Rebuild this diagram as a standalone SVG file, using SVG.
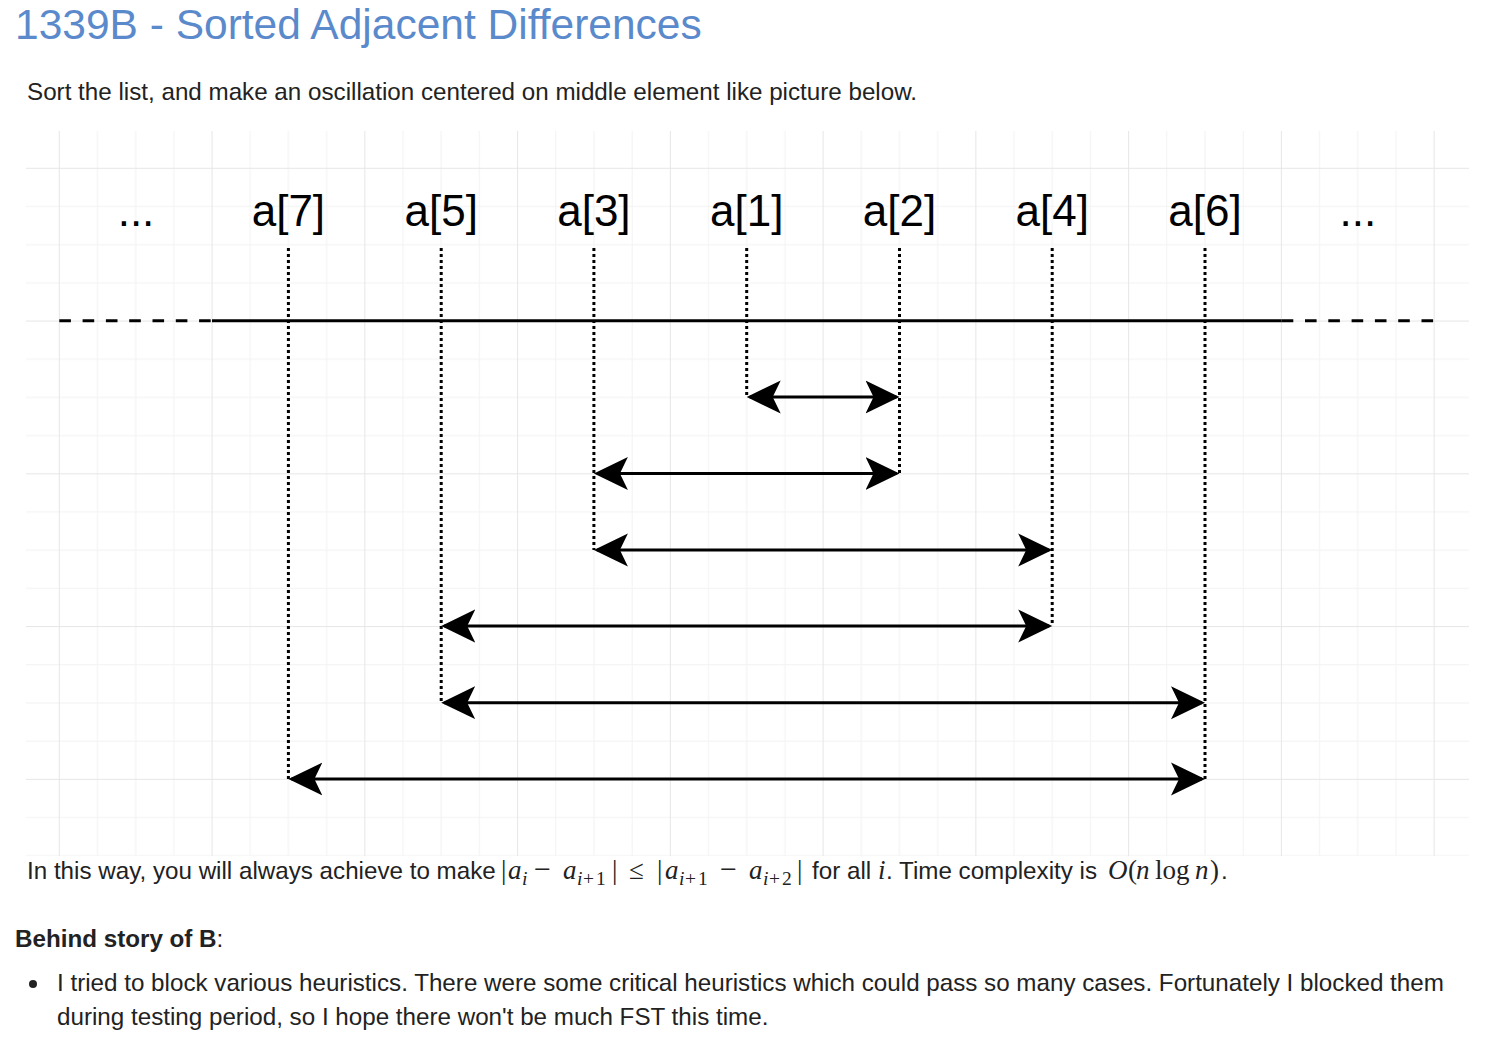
<svg xmlns="http://www.w3.org/2000/svg" width="1492" height="1060" viewBox="0 0 1492 1060">
<style>
.t{font-family:"Liberation Sans",Arial,Helvetica,sans-serif;fill:#222;font-size:24.2px}
.m{font-family:"Liberation Serif","Times New Roman",serif;fill:#222;font-size:27px}
.s{font-size:19.5px}
.op{font-size:30px}
.it{font-style:italic}
.lbl{font-family:"Liberation Sans",Arial,Helvetica,sans-serif;font-size:44px;fill:#000;text-anchor:middle}
.dot{stroke:#000;stroke-width:3;stroke-dasharray:3 3;fill:none}
.arr{stroke:#000;stroke-width:3;fill:none;marker-start:url(#ah);marker-end:url(#ah)}
.axis{stroke:#000;stroke-width:3;fill:none}
.dash{stroke:#000;stroke-width:3;fill:none;stroke-dasharray:11.6 11.7}
</style>
<defs>
<pattern id="grid" patternUnits="userSpaceOnUse" x="58.8" y="167.8" width="152.76" height="152.76">
<rect x="38.19" y="0" width="1" height="152.76" fill="#f2f2f2"/>
<rect x="76.38" y="0" width="1" height="152.76" fill="#f2f2f2"/>
<rect x="114.57" y="0" width="1" height="152.76" fill="#f2f2f2"/>
<rect x="0" y="38.19" width="152.76" height="1" fill="#f2f2f2"/>
<rect x="0" y="76.38" width="152.76" height="1" fill="#f2f2f2"/>
<rect x="0" y="114.57" width="152.76" height="1" fill="#f2f2f2"/>
<rect x="0" y="0" width="1" height="152.76" fill="#e6e6e6"/>
<rect x="0" y="0" width="152.76" height="1" fill="#e6e6e6"/>
</pattern>
<marker id="ah" markerUnits="userSpaceOnUse" viewBox="0 -18 36 36" refX="31" refY="0" markerWidth="36" markerHeight="36" orient="auto-start-reverse">
<path d="M0,-16.5 L34,0 L0,16.5 L8,0 Z" fill="#000"/>
</marker>
</defs>
<rect width="1492" height="1060" fill="#fff"/>
<text class="t" x="15" y="39" style="font-size:42.5px;fill:#5b8acc">1339B - Sorted Adjacent Differences</text>
<text class="t" x="27" y="100">Sort the list, and make an oscillation centered on middle element like picture below.</text>
<rect id="grid-bg" x="26" y="131" width="1443" height="725" fill="url(#grid)"/>
<g id="axis">
<path class="dash" d="M59.3,320.7 H212"/>
<path class="axis" d="M212,320.7 H1281.7"/>
<path class="dash" d="M1281.7,320.7 H1434"/>
</g>
<g id="n-dots-left"><text class="lbl" x="136" y="226">...</text></g>
<g id="n-a7"><text class="lbl" x="288.4" y="226">a[7]</text></g>
<g id="n-a5"><text class="lbl" x="441.2" y="226">a[5]</text></g>
<g id="n-a3"><text class="lbl" x="593.9" y="226">a[3]</text></g>
<g id="n-a1"><text class="lbl" x="746.7" y="226">a[1]</text></g>
<g id="n-a2"><text class="lbl" x="899.5" y="226">a[2]</text></g>
<g id="n-a4"><text class="lbl" x="1052.2" y="226">a[4]</text></g>
<g id="n-a6"><text class="lbl" x="1205" y="226">a[6]</text></g>
<g id="n-dots-right"><text class="lbl" x="1357.8" y="226">...</text></g>
<g id="connectors">
<path class="dot" d="M288.4,248 V779"/>
<path class="dot" d="M441.2,248 V702.7"/>
<path class="dot" d="M593.9,248 V549.9"/>
<path class="dot" d="M746.7,248 V397"/>
<path class="dot" d="M899.5,248 V473.5"/>
<path class="dot" d="M1052.2,248 V626"/>
<path class="dot" d="M1205,248 V779"/>
<path class="arr" d="M749.7,397 H896.5"/>
<path class="arr" d="M596.9,473.5 H896.5"/>
<path class="arr" d="M596.9,549.9 H1049.2"/>
<path class="arr" d="M444.2,626 H1049.2"/>
<path class="arr" d="M444.2,702.7 H1202"/>
<path class="arr" d="M291.4,779 H1202"/>
</g>
<g id="formula-line">
<text class="t" x="27" y="879">In this way, you will always achieve to make</text>
<text class="m" y="879"><tspan x="501">|</tspan><tspan x="508" class="it">a</tspan><tspan x="522" dy="6" class="s it">i</tspan><tspan x="534" dy="-6" class="op">−</tspan><tspan x="563" class="it">a</tspan><tspan x="577" dy="6" class="s it">i</tspan><tspan x="583" class="s">+</tspan><tspan x="596" class="s">1</tspan><tspan x="612" dy="-6">|</tspan><tspan x="629">≤</tspan><tspan x="657">|</tspan><tspan x="665" class="it">a</tspan><tspan x="679" dy="6" class="s it">i</tspan><tspan x="685" class="s">+</tspan><tspan x="698" class="s">1</tspan><tspan x="720" dy="-6" class="op">−</tspan><tspan x="749" class="it">a</tspan><tspan x="763" dy="6" class="s it">i</tspan><tspan x="769" class="s">+</tspan><tspan x="782" class="s">2</tspan><tspan x="797" dy="-6">|</tspan></text>
<text class="t" x="812" y="879">for all</text>
<text class="m it" x="878" y="879">i</text>
<text class="t" x="886" y="879">. Time complexity is</text>
<text class="m" y="879"><tspan x="1108" class="it">O</tspan><tspan x="1128">(</tspan><tspan x="1136" class="it">n</tspan><tspan x="1155">log</tspan><tspan x="1195" class="it">n</tspan><tspan x="1210">)</tspan></text>
<text class="t" x="1221" y="879">.</text>
</g>
<text class="t" x="15" y="947"><tspan font-weight="bold">Behind story of B</tspan>:</text>
<circle cx="33" cy="984" r="4" fill="#222"/>
<text class="t" x="57" y="991">I tried to block various heuristics. There were some critical heuristics which could pass so many cases. Fortunately I blocked them</text>
<text class="t" x="57" y="1025">during testing period, so I hope there won't be much FST this time.</text>
</svg>
